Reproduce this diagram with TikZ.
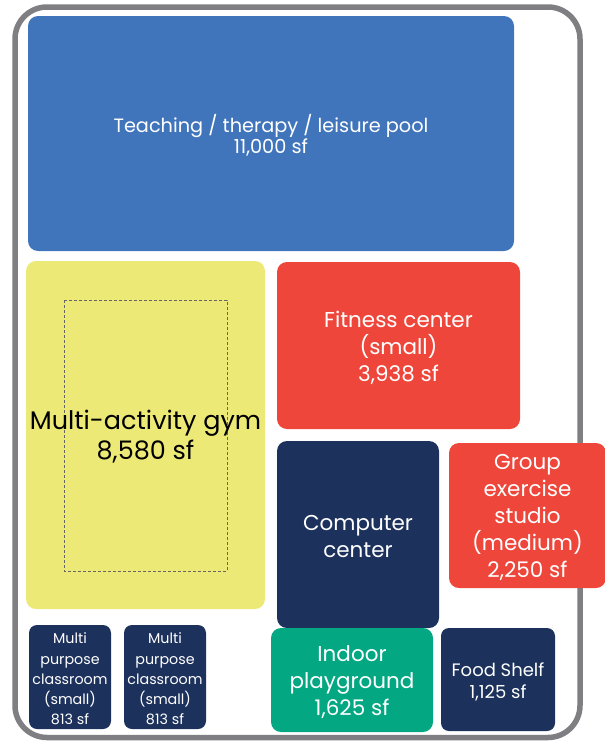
\documentclass[tikz,border=0pt]{standalone}
\usepackage{fontspec}
\setmainfont{Poppins}
\usetikzlibrary{positioning}

\definecolor{poolblue}{HTML}{4175BB}
\definecolor{gymyellow}{HTML}{EDE977}
\definecolor{fitred}{HTML}{EE463A}
\definecolor{roomnavy}{HTML}{1C315B}
\definecolor{playgreen}{HTML}{03A882}
\definecolor{framegray}{HTML}{7E7E83}

\tikzset{
  room/.style={rounded corners=10pt, text=white, align=center, inner sep=0pt,
    font=\fontsize{21.5}{27}\selectfont},
  smallroom/.style={room, rounded corners=8pt, font=\fontsize{14.3}{20.2}\selectfont},
  roomtext/.style={align=center, text=white, inner sep=0pt, yshift=-2pt}
}

\begin{document}
\begin{tikzpicture}[x=1pt,y=-1pt]
\useasboundingbox (0,0) rectangle (605,742);
\draw[framegray,line width=5.5pt,rounded corners=32pt] (15,7) rectangle (580,737.5);
\node[room,fill=poolblue,minimum width=486pt,minimum height=235pt] (pool) at (271,133.5) {};
\node[roomtext,font=\fontsize{19.3}{21}\selectfont] (pooltext) at (pool.center) {Teaching / therapy / leisure pool\\11,000 sf};
\node[room,fill=gymyellow,minimum width=239pt,minimum height=348pt] (gym) at (145.5,435) {};
\draw[black!60,thin,dash pattern=on 3pt off 2pt] (64,300) rectangle (227,571);
\node[roomtext,text=black,font=\fontsize{25.5}{30}\selectfont] (gymtext) at (gym.center) {Multi-activity gym\\8,580 sf};
\node[room,fill=fitred,minimum width=243pt,minimum height=167pt] (fitness) at (398.5,345.5) {};
\node[roomtext,font=\fontsize{21.5}{27}\selectfont] (fitnesstext) at (fitness.center) {Fitness center\\(small)\\3,938 sf};
\node[room,fill=roomnavy,minimum width=162pt,minimum height=187pt] (computer) at (358,534.5) {};
\node[roomtext,font=\fontsize{21.5}{27}\selectfont] (computertext) at (computer.center) {Computer\\center};
\node[room,fill=fitred,minimum width=157pt,minimum height=145pt] (group) at (527.5,515.5) {};
\node[roomtext,font=\fontsize{21.5}{27}\selectfont] (grouptext) at (group.center) {Group\\exercise\\studio\\(medium)\\2,250 sf};
\node[smallroom,fill=roomnavy,minimum width=82pt,minimum height=104pt] (classA) at (70,677) {};
\node[roomtext,font=\fontsize{14.3}{20.2}\selectfont] (classAtext) at (classA.center) {Multi\\purpose\\classroom\\(small)\\813 sf};
\node[smallroom,fill=roomnavy,minimum width=82pt,minimum height=104pt] (classB) at (165,677) {};
\node[roomtext,font=\fontsize{14.3}{20.2}\selectfont] (classBtext) at (classB.center) {Multi\\purpose\\classroom\\(small)\\813 sf};
\node[room,fill=playgreen,minimum width=162pt,minimum height=104pt] (playground) at (352,680) {};
\node[roomtext,font=\fontsize{21.5}{27}\selectfont] (playgroundtext) at (playground.center) {Indoor\\playground\\1,625 sf};
\node[smallroom,fill=roomnavy,minimum width=114pt,minimum height=103pt] (food) at (498,679.5) {};
\node[roomtext,font=\fontsize{18}{22}\selectfont] (foodtext) at (food.center) {Food Shelf\\1,125 sf};
\end{tikzpicture}
\end{document}
